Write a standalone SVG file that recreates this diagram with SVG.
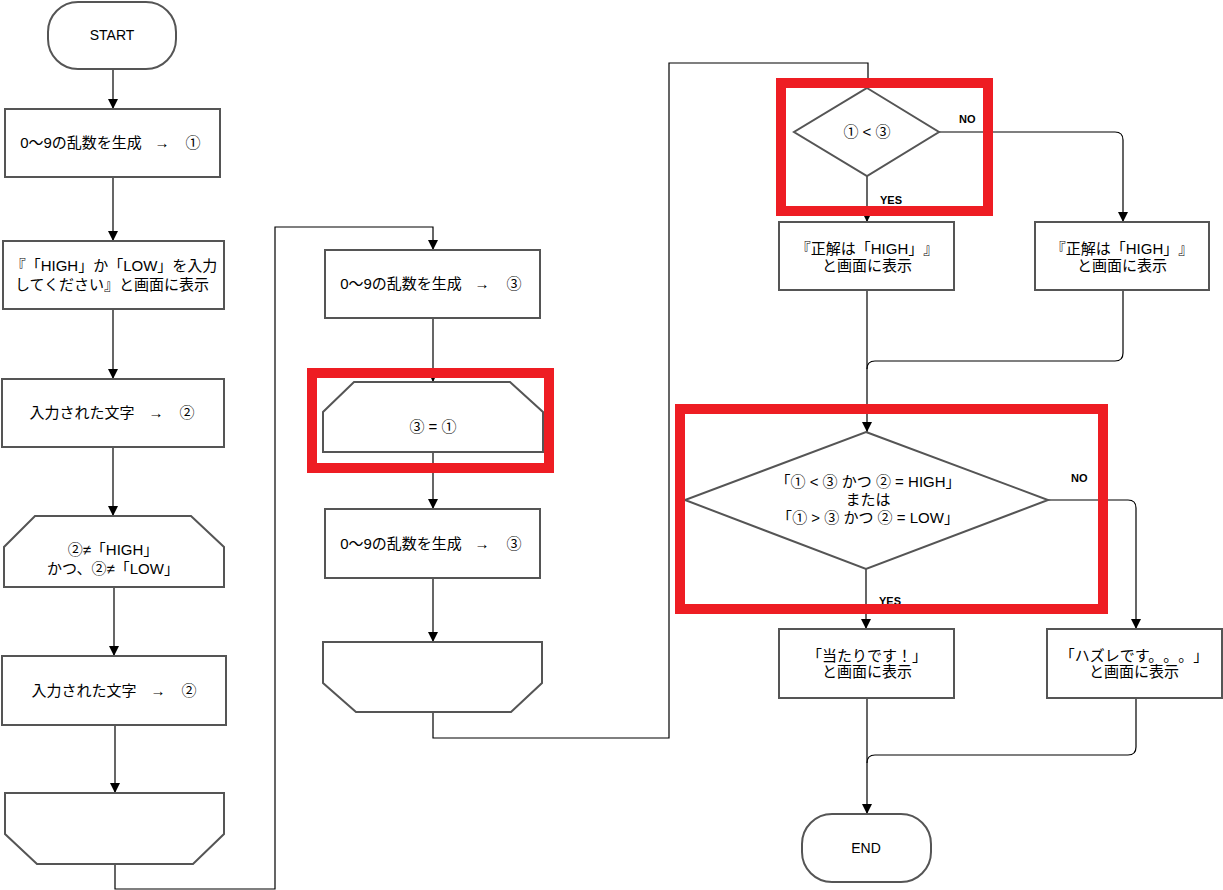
<svg xmlns="http://www.w3.org/2000/svg" width="1223" height="890" viewBox="0 0 1223 890">
<defs>
<marker id="arr" markerUnits="userSpaceOnUse" markerWidth="10" markerHeight="10" refX="10" refY="5" orient="auto">
<path d="M0,0 L10,5 L0,10 z" fill="#000"/>
</marker>
<style>
.n{fill:#fff;stroke:#555;stroke-width:2}
.c{fill:none;stroke:#000;stroke-width:1.2}
.a{marker-end:url(#arr)}
.t{font-family:"Liberation Sans","Noto Sans CJK JP",sans-serif;font-size:15px;fill:#000;text-anchor:middle;text-spacing-trim:space-all}
.s{font-size:14px}
.j{font-family:"Noto Sans CJK JP",sans-serif;fill:#000}
.l{font-family:"Liberation Sans",Arial,sans-serif;font-size:11px;font-weight:bold;fill:#000}
.hl{fill:none;stroke:#ee1d23;stroke-width:10}
</style>
</defs>
<rect width="1223" height="890" fill="#fff"/>
<g id="connectors">
<path class="c a" d="M113,69 V109"/>
<path class="c a" d="M113,177 V241"/>
<path class="c a" d="M113,309 V379"/>
<path class="c a" d="M113,447 V516"/>
<path class="c a" d="M114,587 V656"/>
<path class="c a" d="M115,725 V793"/>
<path class="c a" d="M115,864 V889 H275 V227 H433 V250"/>
<path class="c a" d="M433,318 V382"/>
<path class="c a" d="M433,452 V509"/>
<path class="c a" d="M433,578 V642"/>
<path class="c a" d="M433,712 V738 H669 V63 H868 V88"/>
<path class="c a" d="M867,176 V222"/>
<path class="c a" d="M939,132 H1115 Q1123,132 1123,140 V222"/>
<path class="c a" d="M867,290 V432"/>
<path class="c" d="M1123,290 V353 Q1123,361 1115,361 H875 Q867,361 867,369"/>
<path class="c a" d="M866,569 V629"/>
<path class="c a" d="M1048,500 H1128 Q1136,500 1136,508 V629"/>
<path class="c a" d="M867,698 V814"/>
<path class="c" d="M1136,698 V747 Q1136,755 1128,755 H875 Q867,755 867,763"/>
</g>
<g id="start">
<rect class="n" x="48" y="2" width="128" height="67" rx="30"/>
<text class="t s" x="112" y="40">START</text>
</g>
<g id="gen1">
<rect class="n" x="5" y="109" width="215" height="68"/>
<text class="t" y="148"><tspan x="81">0〜9の乱数を生成</tspan><tspan x="162">→</tspan><tspan x="193" class="j">①</tspan></text>
</g>
<g id="prompt">
<rect class="n" x="3" y="241" width="221" height="68"/>
<text class="t" x="114" y="271">『「HIGH」か「LOW」を入力</text>
<text class="t" x="112" y="290">してください』と画面に表示</text>
</g>
<g id="input1">
<rect class="n" x="2" y="379" width="222" height="68"/>
<text class="t" y="418"><tspan x="82">入力された文字</tspan><tspan x="156">→</tspan><tspan x="187" class="j">②</tspan></text>
</g>
<g id="loop1start">
<path class="n" d="M35,516 H191 L224,547 V587 H4 V547 Z"/>
<text class="t" x="113" y="555"><tspan class="j">②</tspan>≠「HIGH」</text>
<text class="t" x="113" y="574">かつ、<tspan class="j">②</tspan>≠「LOW」</text>
</g>
<g id="input2">
<rect class="n" x="2" y="656" width="224" height="69"/>
<text class="t" y="696"><tspan x="84">入力された文字</tspan><tspan x="158">→</tspan><tspan x="189" class="j">②</tspan></text>
</g>
<g id="loop1end">
<path class="n" d="M5,793 H224 V834 L193,864 H37 L5,834 Z"/>
</g>
<g id="gen3a">
<rect class="n" x="325" y="250" width="215" height="68"/>
<text class="t" y="289"><tspan x="401">0〜9の乱数を生成</tspan><tspan x="482">→</tspan><tspan x="514" class="j">③</tspan></text>
</g>
<g id="loop2start">
<path class="n" d="M354,382 H510 L543,412 V452 H323 V412 Z"/>
<text class="t" x="433" y="432"><tspan class="j">③</tspan> = <tspan class="j">①</tspan></text>
</g>
<g id="gen3b">
<rect class="n" x="325" y="509" width="215" height="69"/>
<text class="t" y="549"><tspan x="401">0〜9の乱数を生成</tspan><tspan x="482">→</tspan><tspan x="514" class="j">③</tspan></text>
</g>
<g id="loop2end">
<path class="n" d="M323,642 H542 V683 L511,712 H356 L323,683 Z"/>
</g>
<g id="cmp1">
<path class="n" d="M867,88 L939,132 L867,176 L794,132 Z"/>
<text class="t" x="867" y="137"><tspan class="j">①</tspan> &lt; <tspan class="j">③</tspan></text>
</g>
<g id="showHigh1">
<rect class="n" x="779" y="222" width="175" height="68"/>
<text class="t" x="867" y="254">『正解は「HIGH」』</text>
<text class="t" x="867" y="271">と画面に表示</text>
</g>
<g id="showHigh2">
<rect class="n" x="1035" y="222" width="174" height="68"/>
<text class="t" x="1122" y="254">『正解は「HIGH」』</text>
<text class="t" x="1122" y="271">と画面に表示</text>
</g>
<g id="cmp2">
<path class="n" d="M866,432 L1048,500 L866,569 L685,500 Z"/>
<text class="t" x="868" y="487">「<tspan class="j">①</tspan> &lt; <tspan class="j">③</tspan> かつ <tspan class="j">②</tspan> = HIGH」</text>
<text class="t" x="868" y="505">または</text>
<text class="t" x="868" y="523">「<tspan class="j">①</tspan> &gt; <tspan class="j">③</tspan> かつ <tspan class="j">②</tspan> = LOW」</text>
</g>
<g id="hit">
<rect class="n" x="779" y="629" width="175" height="69"/>
<text class="t" x="867" y="661">「当たりです！」</text>
<text class="t" x="867" y="677">と画面に表示</text>
</g>
<g id="miss">
<rect class="n" x="1047" y="629" width="175" height="69"/>
<text class="t" x="1134" y="661">「ハズレです。。。」</text>
<text class="t" x="1134" y="677">と画面に表示</text>
</g>
<g id="end">
<rect class="n" x="802" y="814" width="129" height="68" rx="30"/>
<text class="t s" x="866" y="853">END</text>
</g>
<g id="labels">
<text class="l" x="959" y="123">NO</text>
<text class="l" x="880" y="204">YES</text>
<text class="l" x="1071" y="482">NO</text>
<text class="l" x="879" y="605">YES</text>
</g>
<g id="highlights">
<rect class="hl" x="312" y="373" width="237" height="95"/>
<rect class="hl" x="781" y="83" width="207" height="128"/>
<rect class="hl" x="680" y="409" width="423" height="200"/>
</g>
</svg>
